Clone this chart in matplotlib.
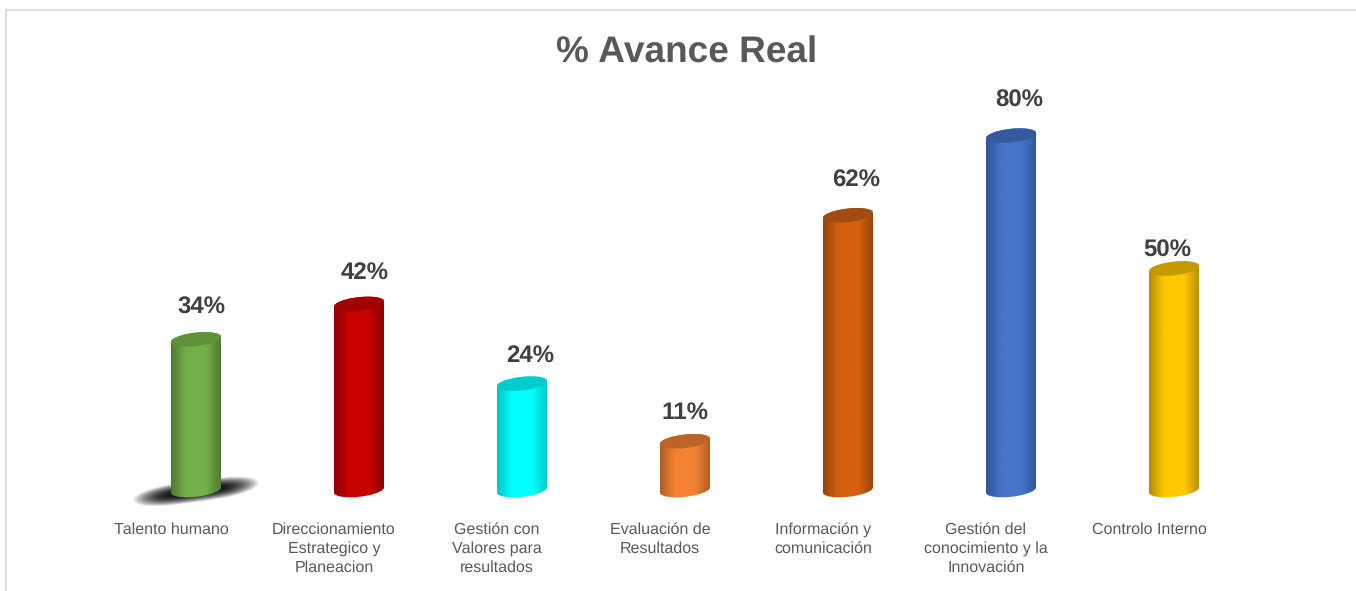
import numpy as np
import matplotlib
matplotlib.use("Agg")
import matplotlib.pyplot as plt
from matplotlib.colors import LinearSegmentedColormap
from matplotlib.patches import Polygon

plt.rcParams["font.family"] = ["Liberation Sans", "DejaVu Sans"]
plt.rcParams["text.hinting"] = "none"
plt.rcParams["text.hinting_factor"] = 1

categories = [
    "Talento humano",
    "Direccionamiento\nEstrategico y\nPlaneacion",
    "Gestión con\nValores para\nresultados",
    "Evaluación de\nResultados",
    "Información y\ncomunicación",
    "Gestión del\nconocimiento y la\nInnovación",
    "Controlo Interno",
]
values = [34, 42, 24, 11, 62, 80, 50]

# centre, edge, top cap
centre_colors = ["#72B04A", "#C80000", "#00FFFF", "#F58233", "#D4600F", "#4675CA", "#FFC800"]
edge_colors = ["#4F7A33", "#8C0000", "#00C4C4", "#B05E25", "#96440C", "#2F5597", "#B38C00"]
cap_colors = ["#5E9239", "#A00000", "#00CCCC", "#BC6426", "#A04C10", "#345A9E", "#C49A00"]

# label shift from the top of each bar, pixels (placed by hand in the original)
label_dx = [5, 6, 8, 0, 8, 8, -7]
label_dy = [31.5, 31.5, 28.5, 28.5, 35, 35, 18]

W, H = 1356, 591
BASE = 490.0
BAR_PX = 25.0  # half width
Y_PX = 4.43  # pixels per percent
STEP = 163.0

fig = plt.figure(figsize=(W / 100, H / 100), dpi=100, facecolor="white")
left = 171 - STEP / 2
ax = fig.add_axes([left / W, (H - 515) / H, 7 * STEP / W, 455 / H])
ylim = ((BASE - 515) / Y_PX, (BASE - 60) / Y_PX)

rx = BAR_PX / STEP
ry = 6.8 / Y_PX
tilt = 2.6 / Y_PX
offset = 25 / STEP


def ellipse(cx, cy, t):
    return cx + rx * np.cos(t), cy + ry * np.sin(t) + tilt * np.cos(t)


# shadow under the first bar
sx = np.linspace(-0.30, 0.65, 300)
sy = np.linspace(-4.5, 4.5, 140)
gx, gy = np.meshgrid(sx, sy)
skew_y = gy + 0.3 - (gx - offset) * 5.0
u = np.abs(gx - offset) / 0.39
v = np.abs(skew_y) / 2.5
alpha = np.clip(1.1 * (1 - u**3 - v**2), 0, 1)
shadow = np.zeros(gx.shape + (4,))
shadow[..., :3] = 0.1
shadow[..., 3] = alpha
ax.imshow(shadow, extent=(sx[0], sx[-1], sy[0], sy[-1]), origin="lower", aspect="auto", zorder=1)

for i, val in enumerate(values):
    cx = i + offset
    t_top = np.linspace(0, np.pi, 60)
    t_bot = np.linspace(np.pi, 2 * np.pi, 60)
    top_x, top_y = ellipse(cx, val, t_top)
    bot_x, bot_y = ellipse(cx, 0, t_bot)
    body = Polygon(
        np.column_stack([np.r_[top_x, bot_x], np.r_[top_y, bot_y]]),
        closed=True, facecolor="none", edgecolor="none", transform=ax.transData,
    )
    ax.add_patch(body)
    cmap = LinearSegmentedColormap.from_list(
        "cyl",
        [(0, edge_colors[i]), (0.3, centre_colors[i]), (0.7, centre_colors[i]), (1, edge_colors[i])],
    )
    grad = np.linspace(0, 1, 128).reshape(1, -1)
    im = ax.imshow(
        grad, cmap=cmap, aspect="auto", origin="lower", zorder=2,
        extent=(cx - rx, cx + rx, -ry - tilt, val + ry + tilt),
    )
    im.set_clip_path(body)
    tc = np.linspace(0, 2 * np.pi, 120)
    cap_x, cap_y = ellipse(cx, val, tc)
    ax.fill(cap_x, cap_y, color=cap_colors[i], zorder=3, lw=0)
    ax.text(
        cx + label_dx[i] / STEP, val + label_dy[i] / Y_PX, f"{val}%",
        ha="center", va="center", fontsize=17.5, fontweight="bold", color="#404040", zorder=4,
    )

ax.set_xlim(-0.5, 6.5)
ax.set_ylim(*ylim)
ax.set_xticks(range(len(categories)))
ax.set_xticklabels(categories, fontsize=11.4, color="#595959", linespacing=1.33)
ax.tick_params(axis="x", length=0, pad=5.5)
ax.set_yticks([])
for s in ax.spines.values():
    s.set_visible(False)
ax.patch.set_alpha(0)

fig.text(686.5 / W, 1 - 53 / H, "% Avance Real", ha="center", va="center",
         fontsize=26.5, fontweight="bold", color="#595959")

# chart frame, only the top and left show in the crop
fig.add_artist(plt.Line2D([5.5 / W, 1], [1 - 9.5 / H, 1 - 9.5 / H], color="#D9D9D9", lw=1.2))
fig.add_artist(plt.Line2D([5.5 / W, 5.5 / W], [1 - 9.5 / H, 0], color="#D9D9D9", lw=1.2))

fig.savefig("out.png", dpi=100)
